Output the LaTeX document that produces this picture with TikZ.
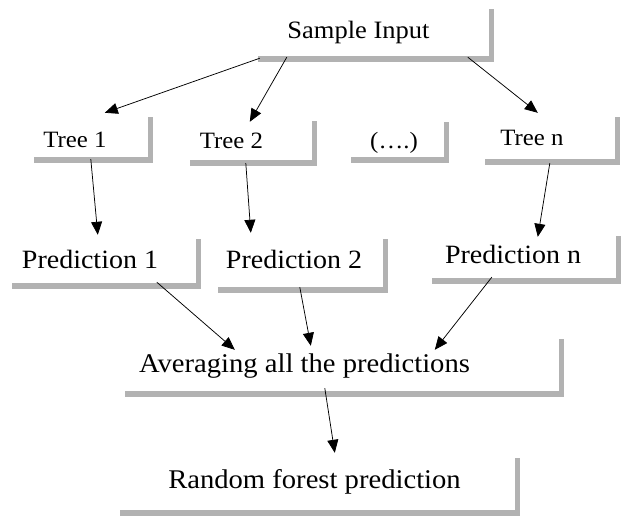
\documentclass[tikz,border=0pt]{standalone}
\usepackage{fontspec}
\setmainfont{Liberation Serif}[FakeStretch=1.06]
\usetikzlibrary{shadows,arrows.meta,calc}
\tikzset{
  box/.style={rectangle, fill=white, draw=none, inner sep=0pt,
    drop shadow={shadow xshift=5pt, shadow yshift=-6pt, fill=black!30, opacity=1}},
  lbl/.style={anchor=base, inner sep=0pt, font=\fontsize{24}{28}\selectfont},
  arr/.style={-{Triangle[length=13pt,width=11pt]}, line width=0.75pt, black},
}
\begin{document}
\begin{tikzpicture}[x=1pt,y=-1pt]
\useasboundingbox (0,0) rectangle (623,517);
\fill[white] (0,0) rectangle (623,517);
% boxes
\node[box, minimum width=236pt, minimum height=53pt] (s)   at (371,29.5) {};
\node[box, minimum width=119pt, minimum height=46pt] (t1)  at (88.5,134) {};
\node[box, minimum width=127pt, minimum height=45pt] (t2)  at (248.5,137.5) {};
\node[box, minimum width=98pt,  minimum height=41pt] (td)  at (395,136.5) {};
\node[box, minimum width=135pt, minimum height=48pt] (tn)  at (547.5,135) {};
\node[box, minimum width=189pt, minimum height=50pt] (p1)  at (101.5,258) {};
\node[box, minimum width=170pt, minimum height=54pt] (p2)  at (298,260) {};
\node[box, minimum width=189pt, minimum height=48pt] (pn)  at (521.5,254) {};
\node[box, minimum width=439pt, minimum height=58pt] (avg) at (339.5,362) {};
\node[box, minimum width=400pt, minimum height=58pt] (rf)  at (315,481) {};
% labels
\node[lbl, font=\fontsize{25}{28}\selectfont] (ls) at (358.5,38) {Sample Input};
\node[lbl, font=\fontsize{23.4}{28}\selectfont] (l1) at (75,147) {Tree 1};
\node[lbl, font=\fontsize{23.4}{28}\selectfont] (l2) at (231.5,148) {Tree 2};
\node[lbl, font=\fontsize{23.4}{28}\selectfont] (ld) at (394,148) {(….)};
\node[lbl, font=\fontsize{23.4}{28}\selectfont] (ln) at (532,145) {Tree n};
\node[lbl, font=\fontsize{26.4}{28}\selectfont] (lp1) at (90,268) {Prediction 1};
\node[lbl, font=\fontsize{26.4}{28}\selectfont] (lp2) at (294,268) {Prediction 2};
\node[lbl, font=\fontsize{26.4}{28}\selectfont] (lpn) at (513,263) {Prediction n};
\node[lbl, font=\fontsize{27}{28}\selectfont] (la) at (304.5,372) {Averaging all the predictions};
\node[lbl, font=\fontsize{27}{28}\selectfont] (lr) at (314.5,488) {Random forest prediction};
% connectors
\draw[arr] ($(s.south west)+(7,2)$)   -- ($(t1.north west)+(76,2)$);
\draw[arr] ($(s.south west)+(34,1)$)  -- ($(t2.north west)+(65,7)$);
\draw[arr] ($(s.south west)+(215,1)$) -- ($(tn.north west)+(58,2)$);
\draw[arr] ($(t1.south west)+(62,2)$) -- ($(p1.north west)+(91,2)$);
\draw[arr] ($(t2.south west)+(61,3)$) -- ($(p2.north west)+(38,0)$);
\draw[arr] ($(tn.south west)+(70,4)$) -- ($(pn.north west)+(111,7)$);
\draw[arr] ($(p1.south west)+(150,-1)$) -- ($(avg.north west)+(115,17)$);
\draw[arr] ($(p2.south west)+(87,0)$)   -- ($(avg.north west)+(191,13)$);
\draw[arr] ($(pn.south west)+(65,-1)$)  -- ($(avg.north west)+(315,17)$);
\draw[arr] ($(avg.south west)+(205,-3)$) -- ($(rf.north west)+(220,1)$);
\end{tikzpicture}
\end{document}
